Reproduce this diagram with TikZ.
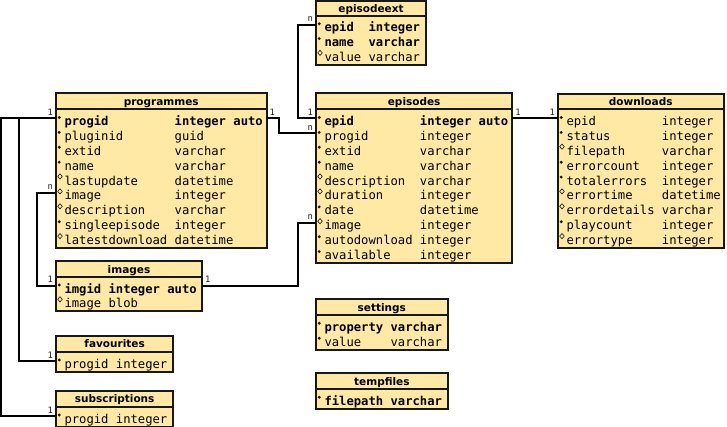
\documentclass[tikz,border=0pt]{standalone}
\usepackage{fontspec}
\setmainfont{DejaVu Sans}
\setmonofont{DejaVu Sans Mono}
\definecolor{tblfill}{RGB}{255,233,164}
\definecolor{tblline}{RGB}{24,24,24}
\newlength\chw
\setlength\chw{7.345pt}
\tikzset{
  hdrbox/.style={draw=tblline, fill=tblfill, line width=2pt, anchor=north west, inner sep=0pt, outer sep=0pt,
    font=\fontsize{10.5}{12}\selectfont\bfseries, text height=8pt, text depth=0pt},
  bodybox/.style={draw=tblline, fill=tblfill, line width=2pt, anchor=north west, inner sep=0pt, outer sep=0pt},
  fieldtext/.style={inner sep=0pt, outer sep=0pt, font=\ttfamily\fontsize{12.2}{14}\selectfont, text=black},
  conn/.style={line width=2pt, draw=black},
  lbl/.style={font=\ttfamily\fontsize{8.8}{10}\selectfont, inner sep=2pt, text=black!85, text depth=0pt},
}
% #1 id, #2 left, #3 top, #4 right, #5 header line y, #6 rows, #7 title
\newcommand\ertable[7]{%
  \pgfmathsetmacro\erW{#4-#2}%
  \pgfmathsetmacro\erHh{#5-#3}%
  \pgfmathsetmacro\erBot{#5+16+(#6-1)*14.9+3.5}%
  \pgfmathsetmacro\erBh{\erBot-#5}%
  \node[bodybox, minimum width=\erW pt, minimum height=\erBh pt] (#1-body) at (#2,#5) {};%
  \node[hdrbox, minimum width=\erW pt, minimum height=\erHh pt] (#1) at (#2,#3) {#7};%
  \xdef\erL{#2}\xdef\erR{#4}\xdef\erH{#5}\xdef\erId{#1}%
}
% #1 row index, #2 marker f/o, #3 name column chars, #4 font, #5 name, #6 type
\newcommand\errow[6]{%
  \pgfmathsetmacro\erBy{\erH+16+(#1-1)*14.9}%
  \pgfmathsetmacro\erLy{\erBy-7}%
  \node[fieldtext, anchor=base west] (\erId-#1) at (\erL+8.5,\erBy) {#4\makebox[#3\chw][l]{#5}#6};%
  \coordinate (\erId-#1-w) at (\erL,\erLy);%
  \coordinate (\erId-#1-e) at (\erR,\erLy);%
  \ifx f#2\fill[tblline] (\erL+3.2,\erBy-8) circle (1.6pt);%
  \else\draw[tblline, line width=0.6pt] (\erL+4,\erBy-11.2) -- (\erL+6.3,\erBy-8.6) -- (\erL+4,\erBy-6) -- (\erL+1.7,\erBy-8.6) -- cycle;\fi
}
\begin{document}
\begin{tikzpicture}[x=1pt, y=-1pt]
\useasboundingbox (0,0) rectangle (727,427);

\ertable{epx}{316}{0.8}{426}{15.7}{3}{episodeext}
\errow{1}{f}{6}{\bfseries}{epid}{integer}
\errow{2}{f}{6}{\bfseries}{name}{varchar}
\errow{3}{o}{6}{}{value}{varchar}

\ertable{prog}{56}{93.3}{266.5}{109.5}{9}{programmes}
\errow{1}{f}{15}{\bfseries}{progid}{integer auto}
\errow{2}{f}{15}{}{pluginid}{guid}
\errow{3}{f}{15}{}{extid}{varchar}
\errow{4}{f}{15}{}{name}{varchar}
\errow{5}{o}{15}{}{lastupdate}{datetime}
\errow{6}{o}{15}{}{image}{integer}
\errow{7}{o}{15}{}{description}{varchar}
\errow{8}{f}{15}{}{singleepisode}{integer}
\errow{9}{o}{15}{}{latestdownload}{datetime}

\ertable{epis}{316}{93.3}{512.3}{109.5}{10}{episodes}
\errow{1}{f}{13}{\bfseries}{epid}{integer auto}
\errow{2}{f}{13}{}{progid}{integer}
\errow{3}{f}{13}{}{extid}{varchar}
\errow{4}{f}{13}{}{name}{varchar}
\errow{5}{o}{13}{}{description}{varchar}
\errow{6}{o}{13}{}{duration}{integer}
\errow{7}{f}{13}{}{date}{datetime}
\errow{8}{o}{13}{}{image}{integer}
\errow{9}{f}{13}{}{autodownload}{integer}
\errow{10}{f}{13}{}{available}{integer}

\ertable{dl}{558}{93.8}{723.5}{109.5}{9}{downloads}
\errow{1}{f}{13}{}{epid}{integer}
\errow{2}{f}{13}{}{status}{integer}
\errow{3}{o}{13}{}{filepath}{varchar}
\errow{4}{f}{13}{}{errorcount}{integer}
\errow{5}{f}{13}{}{totalerrors}{integer}
\errow{6}{o}{13}{}{errortime}{datetime}
\errow{7}{o}{13}{}{errordetails}{varchar}
\errow{8}{f}{13}{}{playcount}{integer}
\errow{9}{o}{13}{}{errortype}{integer}

\ertable{img}{56}{261}{202}{277}{2}{images}
\errow{1}{f}{6}{\bfseries}{imgid}{integer auto}
\errow{2}{o}{6}{}{image}{blob}

\ertable{fav}{56}{335.5}{173.3}{352}{1}{favourites}
\errow{1}{f}{7}{}{progid}{integer}

\ertable{sub}{56}{390.5}{173.3}{407}{1}{subscriptions}
\errow{1}{f}{7}{}{progid}{integer}

\ertable{set}{316}{299}{447.7}{315.3}{2}{settings}
\errow{1}{f}{9}{\bfseries}{property}{varchar}
\errow{2}{f}{9}{}{value}{varchar}

\ertable{tmp}{316}{373}{447.7}{389.2}{1}{tempfiles}
\errow{1}{f}{9}{\bfseries}{filepath}{varchar}

% connectors
\draw[conn] (prog-1-e) node[lbl, anchor=south west] {1} -- ++(12.5,0) |- (epis-2-w) node[lbl, anchor=south east] {n};
\draw[conn] (epx-1-w) node[lbl, anchor=south east] {n} -- ++(-18,0) |- (epis-1-w) node[lbl, anchor=south east] {1};
\draw[conn] (epis-1-e) node[lbl, anchor=south west] {1} -- (dl-1-w) node[lbl, anchor=south east] {1};
\draw[conn] (prog-6-w) node[lbl, anchor=south east] {n} -- ++(-19,0) |- (img-1-w) node[lbl, anchor=south east] {1};
\draw[conn] (img-1-e) node[lbl, anchor=south west] {1} -- ++(96,0) |- (epis-8-w) node[lbl, anchor=south east] {n};
\draw[conn] (prog-1-w) node[lbl, anchor=south east] {1} -- ++(-37,0) |- (fav-1-w) node[lbl, anchor=south east] {1};
\draw[conn] (prog-1-w) -- ++(-55,0) |- (sub-1-w) node[lbl, anchor=south east] {1};
\end{tikzpicture}
\end{document}
